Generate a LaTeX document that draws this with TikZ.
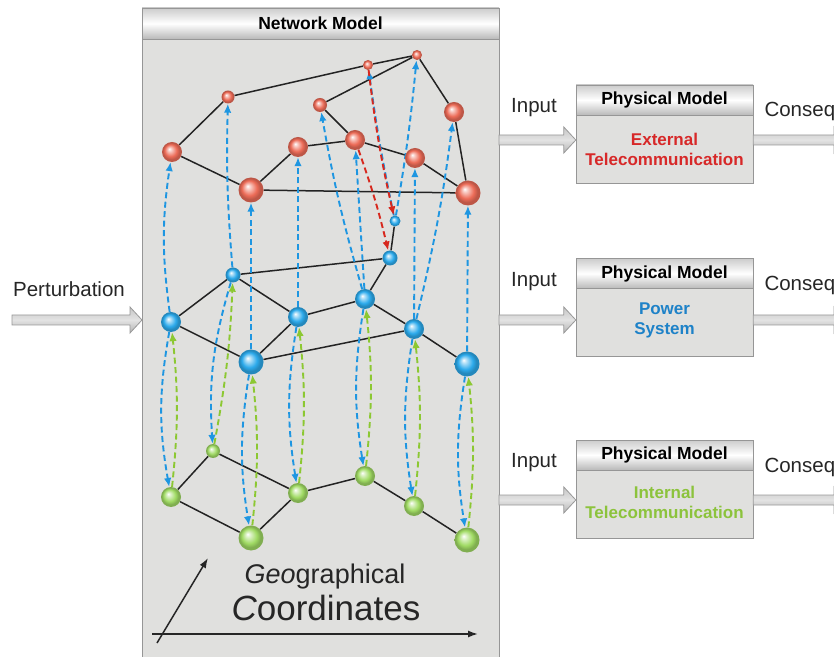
\documentclass[tikz,border=0pt]{standalone}
\usepackage{fontspec}
\setmainfont{Liberation Sans}
\usetikzlibrary{arrows.meta,calc,backgrounds,positioning}

\definecolor{netred}{RGB}{236,108,88}
\definecolor{netblue}{RGB}{45,170,235}
\definecolor{netgreen}{RGB}{160,218,100}
\definecolor{dashblue}{RGB}{30,150,225}
\definecolor{dashgreen}{RGB}{140,200,50}
\definecolor{dashred}{RGB}{215,40,30}
\definecolor{txtred}{RGB}{215,40,40}
\definecolor{txtblue}{RGB}{30,130,200}
\definecolor{txtgreen}{RGB}{140,195,60}
\definecolor{boxfill}{RGB}{224,224,222}
\definecolor{boxline}{RGB}{150,150,150}
\definecolor{linkgray}{RGB}{35,35,35}

% soft balls, one per layer
\pgfdeclareradialshading{redball}{\pgfpoint{-7bp}{8bp}}{color(0bp)=(white); color(4bp)=(netred!30!white);
  color(15bp)=(netred); color(21bp)=(netred!80!black); color(30bp)=(netred!80!black)}
\pgfdeclareradialshading{blueball}{\pgfpoint{-7bp}{8bp}}{color(0bp)=(white); color(4bp)=(netblue!30!white);
  color(15bp)=(netblue); color(21bp)=(netblue!80!black); color(30bp)=(netblue!80!black)}
\pgfdeclareradialshading{greenball}{\pgfpoint{-7bp}{8bp}}{color(0bp)=(white); color(4bp)=(netgreen!30!white);
  color(15bp)=(netgreen); color(21bp)=(netgreen!80!black); color(30bp)=(netgreen!80!black)}

% fat gray arrow between two named coordinates on one height
\newcommand{\fatarrow}[2]{%
  \shadedraw[fatarrow] ($(#1)+(0,5)$) -- ($(#2)+(-12,5)$) -- ($(#2)+(-12,13)$) -- (#2)
    -- ($(#2)+(-12,-13)$) -- ($(#2)+(-12,-5)$) -- ($(#1)+(0,-5)$) -- cycle;}

\begin{document}
\begin{tikzpicture}[
    x=1pt, y=1pt,
    ball/.style={circle, inner sep=0pt},
    rnode/.style={ball, shading=redball},
    bnode/.style={ball, shading=blueball},
    gnode/.style={ball, shading=greenball},
    link/.style={draw=linkgray, line width=1.5pt},
    bdash/.style={draw=dashblue, line width=1.9pt, dash pattern=on 6pt off 3.5pt,
      -{Latex[length=9pt,width=7.5pt]}},
    gdash/.style={bdash, draw=dashgreen},
    rdash/.style={bdash, draw=dashred},
    fatarrow/.style={draw=gray!80, line width=0.8pt, top color=gray!45, bottom color=gray!60, middle color=gray!22},
    headbar/.style={draw=boxline, top color=gray!40, bottom color=gray!55, middle color=white,
      inner sep=0pt, font=\bfseries\fontsize{17.5}{20}\selectfont},
    physbox/.style={draw=boxline, fill=boxfill, minimum width=177pt, minimum height=98pt, inner sep=0pt},
    physhead/.style={headbar, anchor=north, minimum width=177pt, minimum height=30pt},
    bodytext/.style={font=\bfseries\fontsize{17}{20}\selectfont, align=center},
    lbl/.style={font=\fontsize{20.5}{24}\selectfont, text=black!85},
    axis/.style={draw=black!85, line width=1.5pt, -{Latex[length=10pt,width=7pt]}}
  ]
  \useasboundingbox (0,0) rectangle (834,656);

  \begin{pgfonlayer}{background}
    \filldraw[fill=boxfill, draw=boxline] (142,-3) rectangle (499,648);
  \end{pgfonlayer}
  \node[headbar, minimum width=357pt, minimum height=31pt] (nethead) at (320.5,632.5) {Network Model};

  % external telecommunication layer
  \node[rnode, minimum size=13pt] (r1) at (228,559) {};
  \node[rnode, minimum size=20pt] (r2) at (172,504) {};
  \node[rnode, minimum size=25pt] (r3) at (251,466) {};
  \node[rnode, minimum size=20pt] (r4) at (298,509) {};
  \node[rnode, minimum size=14pt] (r5) at (320,551) {};
  \node[rnode, minimum size=20pt] (r6) at (355,516) {};
  \node[rnode, minimum size=10pt] (r7) at (368,591) {};
  \node[rnode, minimum size=10pt] (r8) at (417,601) {};
  \node[rnode, minimum size=20pt] (r9) at (415,498) {};
  \node[rnode, minimum size=20pt] (r10) at (454,544) {};
  \node[rnode, minimum size=25pt] (r11) at (468,463) {};

  % power system layer
  \node[bnode, minimum size=11pt] (b1) at (395,435) {};
  \node[bnode, minimum size=15pt] (b2) at (390,398) {};
  \node[bnode, minimum size=15pt] (b3) at (233,381) {};
  \node[bnode, minimum size=20pt] (b4) at (171,334) {};
  \node[bnode, minimum size=20pt] (b5) at (298,339) {};
  \node[bnode, minimum size=20pt] (b6) at (365,357) {};
  \node[bnode, minimum size=20pt] (b7) at (414,327) {};
  \node[bnode, minimum size=25pt] (b8) at (251,294) {};
  \node[bnode, minimum size=25pt] (b9) at (467,292) {};

  % internal telecommunication layer
  \node[gnode, minimum size=14pt] (g1) at (213,205) {};
  \node[gnode, minimum size=20pt] (g2) at (171,159) {};
  \node[gnode, minimum size=25pt] (g3) at (251,118) {};
  \node[gnode, minimum size=20pt] (g4) at (298,163) {};
  \node[gnode, minimum size=20pt] (g5) at (365,180) {};
  \node[gnode, minimum size=20pt] (g6) at (414,150) {};
  \node[gnode, minimum size=25pt] (g7) at (467,116) {};

  \begin{pgfonlayer}{background}
    \draw[link] (r2) -- (r1) -- (r7) -- (r8) -- (r5) -- (r6) -- (r9) -- (r11) -- (r10) -- (r8);
    \draw[link] (r2) -- (r3) -- (r4) -- (r6);
    \draw[link] (r3) -- (r11);
    \draw[link] (b1) -- (b2) -- (b3) -- (b4) -- (b8) -- (b5) -- (b6) -- (b7) -- (b9);
    \draw[link] (b3) -- (b5);
    \draw[link] (b2) -- (b6);
    \draw[link] (b8) -- (b7);
    \draw[link] (g4) -- (g1) -- (g2) -- (g3) -- (g4) -- (g5) -- (g6) -- (g7);

    % power to external
    \draw[bdash] (b4) to[bend left=8] (r2);
    \draw[bdash] (b3) to[bend left=3] (r1);
    \draw[bdash] (b8) to (r3);
    \draw[bdash] (b5) to (r4);
    \draw[bdash] (b6) to[bend left=3] (r5);
    \draw[bdash] (b6) to (r6);
    \draw[bdash] (b1) to[bend left=2] (r7);
    \draw[bdash] (b1) to[bend right=2] (r8);
    \draw[bdash] (b7) to (r9);
    \draw[bdash] (b7) to[bend right=3] (r10);
    \draw[bdash] (b9) to (r11);
    % external to power
    \draw[rdash] (r7) to[bend right=3] (b1);
    \draw[rdash] (r6) to[bend left=3] (b2);
    % power to internal
    \draw[bdash] (b4) to[bend right=10] (g2);
    \draw[bdash] (b3) to[bend right=10] (g1);
    \draw[bdash] (b8) to[bend right=9] (g3);
    \draw[bdash] (b5) to[bend right=9] (g4);
    \draw[bdash] (b6) to[bend right=9] (g5);
    \draw[bdash] (b7) to[bend right=9] (g6);
    \draw[bdash] (b9) to[bend right=9] (g7);
    % internal to power
    \draw[gdash] (g2) to[bend right=6] (b4);
    \draw[gdash] (g1) to[bend right=4] (b3);
    \draw[gdash] (g3) to[bend right=6] (b8);
    \draw[gdash] (g4) to[bend right=6] (b5);
    \draw[gdash] (g5) to[bend right=6] (b6);
    \draw[gdash] (g6) to[bend right=6] (b7);
    \draw[gdash] (g7) to[bend right=6] (b9);
  \end{pgfonlayer}

  % geographical axes
  \coordinate (xfrom) at (152,22);
  \coordinate (xto) at (478,22);
  \coordinate (yfrom) at (157,13);
  \coordinate (yto) at (208,98);
  \draw[axis] (xfrom) -- (xto);
  \draw[axis] (yfrom) -- (yto);
  \node[text=black!85, font=\fontsize{27}{30}\selectfont] (geo) at (325,79) {{\itshape Geo}graphical};
  \node[text=black!85, font=\fontsize{35}{38}\selectfont] (coord) at (326,48) {{\itshape C}oordinates};

  % perturbation
  \coordinate (pert) at (12,336);
  \coordinate (perttip) at (142,336);
  \fatarrow{pert}{perttip}
  \node[lbl, anchor=base] at (69,359) {Perturbation};

  % physical models
  \node[physbox] (pm1) at (664.5,522) {};
  \node[physhead] (ph1) at (pm1.north) {Physical Model};
  \node[bodytext, text=txtred] at ($(pm1.center)+(0,-15)$) {External\\Telecommunication};

  \node[physbox] (pm2) at (664.5,348.5) {};
  \node[physhead] (ph2) at (pm2.north) {Physical Model};
  \node[bodytext, text=txtblue] at ($(pm2.center)+(0,-13)$) {Power\\System};

  \node[physbox] (pm3) at (664.5,167) {};
  \node[physhead] (ph3) at (pm3.north) {Physical Model};
  \node[bodytext, text=txtgreen] at ($(pm3.center)+(0,-13)$) {Internal\\Telecommunication};

  % inputs and consequences
  \coordinate (in1) at (499,516);
  \coordinate (in2) at (499,336);
  \coordinate (in3) at (499,156);
  \coordinate (tip1) at (pm1.west |- in1);
  \coordinate (tip2) at (pm2.west |- in2);
  \coordinate (tip3) at (pm3.west |- in3);
  \coordinate (out1) at (pm1.east |- in1);
  \coordinate (out2) at (pm2.east |- in2);
  \coordinate (out3) at (pm3.east |- in3);
  \coordinate (end1) at (846,516);
  \coordinate (end2) at (846,336);
  \coordinate (end3) at (846,156);
  \fatarrow{in1}{tip1}
  \fatarrow{in2}{tip2}
  \fatarrow{in3}{tip3}
  \begin{scope}
    \clip (0,0) rectangle (834,656);
    \fatarrow{out1}{end1}
    \fatarrow{out2}{end2}
    \fatarrow{out3}{end3}
  \end{scope}
  \node[lbl, anchor=base] at (534,543) {Input};
  \node[lbl, anchor=base] at (534,369) {Input};
  \node[lbl, anchor=base] at (534,189) {Input};
  \node[lbl, anchor=base west] at (761,539) {Conseq};
  \node[lbl, anchor=base west] at (761,365) {Conseq};
  \node[lbl, anchor=base west] at (761,184) {Conseq};
\end{tikzpicture}
\end{document}
